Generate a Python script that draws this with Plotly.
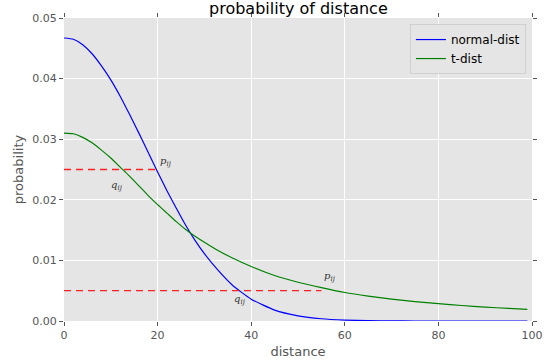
import plotly.graph_objects as go

# distances at which the curves were read
distance = [0, 2, 4, 6, 8, 10, 12, 14, 16, 18, 20, 22, 24, 26, 28, 30, 33, 36, 40, 45,
            50, 55, 60, 65, 70, 75, 80, 85, 90, 95, 99]
normal_dist = [0.0467, 0.0465, 0.0456, 0.0441, 0.0421, 0.0398, 0.0371, 0.0341, 0.0310,
               0.0278, 0.0246, 0.0215, 0.0186, 0.0158, 0.0133, 0.0111, 0.0083, 0.0059,
               0.0036, 0.0018, 0.00086, 0.00037, 0.00015, 0.00005, 0.00002, 0.0, 0.0,
               0.0, 0.0, 0.0, 0.0]
t_dist = [0.0310, 0.0309, 0.0303, 0.0294, 0.0282, 0.0269, 0.0254, 0.0239, 0.0223,
          0.0207, 0.0192, 0.0178, 0.0164, 0.0151, 0.0140, 0.0130, 0.0116, 0.0104,
          0.0090, 0.0075, 0.0064, 0.0055, 0.0047, 0.0041, 0.0036, 0.0032, 0.00286,
          0.00256, 0.00230, 0.00208, 0.00193]

# reference levels (red dashed)
level_x_end = [20, 55]
level_y = [0.025, 0.005]

# labels
label_text = ["p", "q", "p", "q"]
label_x = [21.8, 11.3, 56.8, 37.6]
label_y = [0.0264, 0.0223, 0.0073, 0.0036]

x_ticks = [0, 20, 40, 60, 80, 100]
y_ticks = [0.00, 0.01, 0.02, 0.03, 0.04, 0.05]

FONT = "DejaVu Sans"
GREY = "#555555"

fig = go.Figure()
fig.add_trace(go.Scatter(x=distance, y=normal_dist, mode="lines", name="normal-dist",
                         line=dict(color="#0000ff", width=1.2, shape="spline", smoothing=0.5)))
fig.add_trace(go.Scatter(x=distance, y=t_dist, mode="lines", name="t-dist",
                         line=dict(color="#008000", width=1.2, shape="spline", smoothing=0.5)))
for xe, yv in zip(level_x_end, level_y):
    fig.add_trace(go.Scatter(x=[0, xe], y=[yv, yv], mode="lines", showlegend=False,
                             line=dict(color="#ff2020", width=1.3, dash="7px,5px")))

for t, x, y in zip(label_text, label_x, label_y):
    fig.add_annotation(x=x, y=y, text=f"<i>{t}</i><sub><i>ij</i></sub>", showarrow=False,
                       font=dict(family="DejaVu Serif", size=10, color="#333333"),
                       xanchor="center", yanchor="middle")

fig.add_annotation(x=0.5, y=1, xref="paper", yref="paper", text="probability of distance",
                   showarrow=False, xanchor="center", yanchor="bottom", yshift=-2,
                   font=dict(family=FONT, size=16, color="#000000"))

fig.update_layout(
    width=553, height=362,
    margin=dict(l=64, r=21, t=18, b=41, autoexpand=False),
    paper_bgcolor="#ffffff",
    plot_bgcolor="#e5e5e5",
    font=dict(family=FONT, color=GREY),
    legend=dict(x=0.987, y=0.98, xanchor="right", yanchor="top",
                bgcolor="#e5e5e5", bordercolor="#d0d0d0", borderwidth=1,
                font=dict(family=FONT, size=12, color="#000000"),
                itemwidth=30, tracegroupgap=0),
    xaxis=dict(range=[0, 100], tickvals=x_ticks, showgrid=True, gridcolor="#ffffff",
               gridwidth=1, zeroline=False, showline=False, ticks="outside", ticklen=4,
               tickcolor=GREY, mirror="ticks", automargin=False,
               tickfont=dict(size=11, color=GREY),
               title=dict(text="distance", font=dict(size=13, color=GREY), standoff=5)),
    yaxis=dict(range=[0, 0.05], tickvals=y_ticks, tickformat=".2f", showgrid=True,
               gridcolor="#ffffff", gridwidth=1, zeroline=False, showline=False,
               ticks="outside", ticklen=4, tickcolor=GREY, mirror="ticks", automargin=False,
               tickfont=dict(size=11, color=GREY),
               title=dict(text="probability", font=dict(size=13, color=GREY), standoff=5)),
)

fig.write_html("out.html")
